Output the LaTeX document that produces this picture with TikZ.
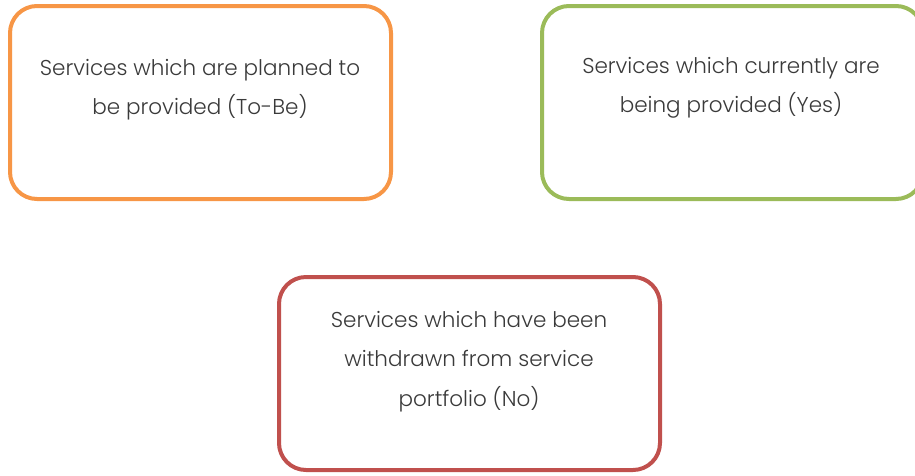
\documentclass[tikz,border=0pt]{standalone}
\usepackage{fontspec}
\setmainfont{Poppins}[UprightFont=* Light]
\definecolor{boxorange}{HTML}{F79646}
\definecolor{boxgreen}{HTML}{9BBB59}
\definecolor{boxred}{HTML}{C0504D}
\definecolor{txt}{HTML}{3A3A3A}
\begin{document}
\begin{tikzpicture}[x=1pt,y=-1pt,
  card/.style={line width=4pt, rounded corners=27pt, fill=white},
  cardtext/.style={align=center, text=txt, font=\fontsize{21.5}{39.5}\selectfont}]
\useasboundingbox (0,0) rectangle (915,475);
\begin{scope}
\clip (0,0) rectangle (915,475);
\draw[card, draw=boxorange] (10,6) rectangle (391,199);
\draw[card, draw=boxgreen] (542,6) rectangle (923,199);
\draw[card, draw=boxred] (279,277) rectangle (660,470);
\end{scope}
\node[cardtext] (tobe) at (200,89.5) {Services which are planned to\\be provided (To-Be)};
\node[cardtext] (yes) at (731,88) {Services which currently are\\being provided (Yes)};
\node[cardtext] (no) at (469,361.5) {Services which have been\\withdrawn from service\\portfolio (No)};
\end{tikzpicture}
\end{document}
